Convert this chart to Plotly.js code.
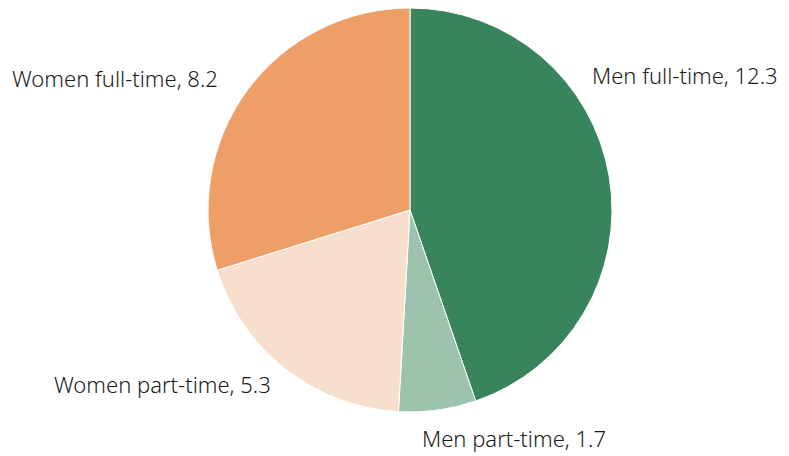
<!DOCTYPE html>
<html><head><meta charset="utf-8">
<script src="https://cdn.plot.ly/plotly-3.0.1.min.js"></script>
<style>html,body{margin:0;padding:0;background:#fff}</style>
</head><body><div id="chart" style="width:789px;height:456px"></div>
<script>
const categories = ["Men full-time", "Men part-time", "Women part-time", "Women full-time"];
const values = [12.3, 1.7, 5.3, 8.2];
const colors = ["#38845B", "#9DC3AF", "#F8DFCD", "#EE9E67"];
// label anchor positions in pixels (left edge, vertical middle)
const labelPos = [[590, 75], [420, 438], [52, 384], [10, 78]];
const W = 789, H = 456;
const annotations = categories.map((c, i) => ({
  text: c + ", " + values[i].toFixed(1),
  x: labelPos[i][0] / W, y: 1 - labelPos[i][1] / H,
  xref: "paper", yref: "paper", xanchor: "left", yanchor: "middle",
  showarrow: false,
  font: {family: "Noto Sans, Open Sans, sans-serif", size: 22, weight: 300, color: "#1a1a1a"}
}));
Plotly.newPlot("chart", [{
  type: "pie", labels: categories, values: values, sort: false,
  direction: "clockwise", rotation: 0,
  marker: {colors: colors, line: {color: "#ffffff", width: 1}},
  textinfo: "none", hoverinfo: "label+value",
  domain: {x: [208 / W, 612 / W], y: [1 - 412 / H, 1 - 8 / H]}
}], {
  width: W, height: H, showlegend: false,
  margin: {l: 0, r: 0, t: 0, b: 0},
  paper_bgcolor: "#fff", annotations: annotations
}, {displayModeBar: false, staticPlot: true});
</script></body></html>
